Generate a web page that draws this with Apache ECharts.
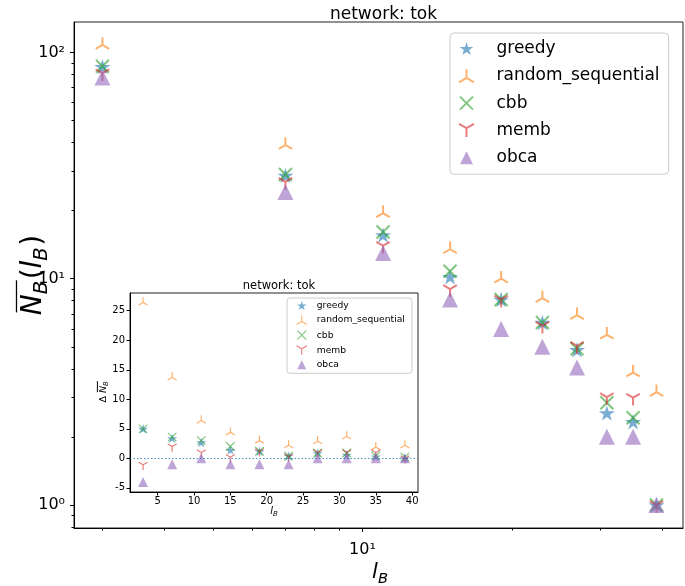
<!DOCTYPE html>
<html><head><meta charset="utf-8">
<script src="https://cdn.jsdelivr.net/npm/echarts@6/dist/echarts.min.js"></script>
<style>html,body{margin:0;padding:0;background:#fff}#c{width:685px;height:586px}</style>
</head><body><div id="c"></div>
<script>
// ---------------- data ----------------
const lB = [3, 7, 11, 15, 19, 23, 27, 31, 35, 39];
const seriesNames = ['greedy', 'random_sequential', 'cbb', 'memb', 'obca'];

// main plot: mean number of boxes N_B(l_B) (log-log)
const mainGreedy = [86.5, 28.6, 15.6, 10.2, 8.1, 6.4, 4.85, 2.55, 2.33, 1.0];
const mainRandom = [108, 39, 19.5, 13.5, 10.0, 8.2, 6.9, 5.65, 3.85, 3.15];
const mainCbb    = [87, 28.9, 16.1, 10.8, 8.1, 6.4, 4.9, 2.83, 2.43, 1.0];
const mainMemb   = [81, 26.8, 14.0, 9.0, 8.1, 6.2, 5.05, 3.0, 2.98, 1.0];
const mainObca   = [77.5, 24.2, 13.0, 8.1, 6.0, 5.0, 4.05, 2.0, 2.0, 1.0];

// inset: difference Delta N_B
const diffGreedy = [5.0, 3.4, 2.7, 1.4, 1.2, 0.4, 0.9, 0.6, 0.3, 0.0];
const diffRandom = [26.4, 13.7, 6.4, 4.4, 3.0, 2.2, 2.9, 3.7, 1.9, 2.2];
const diffCbb    = [5.0, 3.6, 3.0, 2.0, 1.2, 0.4, 0.9, 0.9, 0.4, 0.2];
const diffMemb   = [-1.1, 2.0, 1.0, 0.2, 1.2, 0.3, 1.0, 1.0, 1.0, 0.0];
const diffObca   = [-4.0, -1.0, 0.0, -1.0, -1.0, -1.0, 0.0, 0.0, 0.0, 0.0];

// ticks
const mainXMajor = [10];
const mainXMinor = [3, 4, 5, 6, 7, 8, 9, 20, 30, 40];
const mainYMajor = [1, 10, 100];
const mainYMinor = [0.8, 0.9, 2, 3, 4, 5, 6, 7, 8, 9, 20, 30, 40, 50, 60, 70, 80, 90];
const insetXTicks = [5, 10, 15, 20, 25, 30, 35, 40];
const insetYTicks = [-5, 0, 5, 10, 15, 20, 25];

const mainTitle = 'network: tok';
const insetTitle = 'network: tok';

// ---------------- styles ----------------
const FONT = '"DejaVu Sans", sans-serif';
const COL = ['#1f77b4', '#ff7f0e', '#2ca02c', '#d62728', '#9467bd'];
function starPath() {
  let s = 'path://';
  for (let i = 0; i < 10; i++) {
    const r = i % 2 ? 3.82 : 10;
    const a = -Math.PI / 2 + i * Math.PI / 5;
    s += (i ? 'L' : 'M') + (r * Math.cos(a)).toFixed(3) + ' ' + (r * Math.sin(a)).toFixed(3) + ' ';
  }
  return s + 'Z';
}
const SYM = [
  starPath(),
  'path://M0 0L0 -10M0 0L-8.66 5M0 0L8.66 5',
  'path://M-5 -5L5 5M-5 5L5 -5',
  'path://M0 0L0 10M0 0L-8.66 -5M0 0L8.66 -5',
  'path://M0 -10L10 10L-10 10Z'
];
const FILLED = [true, false, false, false, true];
const TRI_OFF = [0, -1, 0, 1, 0];
const MAIN_SIZE = [16, 13.5, 13, 13.5, 16];
const INSET_SIZE = [10, 9, 8.5, 9, 10];
const ALPHA = 0.6;

const mainData = [mainGreedy, mainRandom, mainCbb, mainMemb, mainObca];
const diffData = [diffGreedy, diffRandom, diffCbb, diffMemb, diffObca];

function mk(k, vals, xi, yi, size, lw) {
  return {
    type: 'scatter', name: seriesNames[k], xAxisIndex: xi, yAxisIndex: yi,
    data: lB.map((x, i) => [x, vals[i]]),
    symbol: SYM[k], symbolSize: size, symbolKeepAspect: true,
    symbolOffset: [0, TRI_OFF[k] * 2.5 * size / 17.32],
    itemStyle: FILLED[k]
      ? { color: COL[k], opacity: ALPHA, borderWidth: 0 }
      : { color: 'rgba(0,0,0,0)', borderColor: COL[k], borderWidth: lw, opacity: ALPHA },
    emphasis: { disabled: true }, silent: true, animation: false
  };
}

const series = [];
for (let k = 0; k < 5; k++) series.push(mk(k, mainData[k], 0, 0, MAIN_SIZE[k], 2));
for (let k = 0; k < 5; k++) series.push(mk(k, diffData[k], 2, 2, INSET_SIZE[k], 1.2));
series[5].markLine = {
  silent: true, symbol: 'none', label: { show: false }, animation: false,
  lineStyle: { color: '#1f77b4', width: 1.2, type: [1.5, 2], opacity: 0.8 },
  data: [{ yAxis: 0 }]
};

const SUP = { '-': '⁻', '0': '⁰', '1': '¹', '2': '²', '3': '³' };
function logLabel(v) {
  const e = Math.round(Math.log10(v));
  return '10' + String(e).split('').map(c => SUP[c]).join('');
}

function legendData(lw) {
  return seriesNames.map((n, k) => ({
    name: n, icon: SYM[k],
    itemStyle: FILLED[k]
      ? { color: COL[k], opacity: ALPHA, borderWidth: 0 }
      : { color: 'rgba(0,0,0,0)', borderColor: COL[k], borderWidth: lw, opacity: ALPHA }
  }));
}

const axisBase = {
  axisLine: { show: true, onZero: false, lineStyle: { color: '#000', width: 1 } },
  splitLine: { show: false }
};

// ---------------- math labels via canvas measure ----------------
const mctx = document.createElement('canvas').getContext('2d');
function tw(t, font) { mctx.font = font; return mctx.measureText(t).width; }
function mathLabel(pieces, fs, cx, cy, rot) {
  const children = [];
  let x = 0;
  const items = pieces.map(p => {
    const size = p.sub ? fs * 0.7 : fs;
    const font = (p.it ? 'italic ' : '') + size + 'px ' + FONT;
    const w = tw(p.t, font);
    const it = { p, size, font, x, w };
    x += w + (p.sp || 0);
    return it;
  });
  const total = x;
  const base = fs * 0.38;
  let olStart = null, olEnd = null;
  items.forEach(it => {
    const bl = base + (it.p.sub ? fs * 0.2 : 0);
    children.push({
      type: 'text', silent: true,
      style: { text: it.p.t, x: it.x - total / 2, y: bl - 0.35 * it.size, font: it.font,
               fill: '#000', align: 'left', verticalAlign: 'middle' }
    });
    if (it.p.ol) {
      if (olStart === null) olStart = it.x - total / 2;
      olEnd = it.x - total / 2 + it.w;
    }
  });
  if (olStart !== null) {
    const oy = base - fs * 0.97;
    children.push({ type: 'line', silent: true,
      shape: { x1: olStart + fs * 0.1, y1: oy, x2: olEnd + fs * 0.02, y2: oy },
      style: { stroke: '#000', lineWidth: Math.max(1, fs * 0.045) } });
  }
  return { type: 'group', x: cx, y: cy, rotation: rot || 0, silent: true, children };
}

const graphics = [
  mathLabel([{ t: 'N', it: true, ol: true }, { t: 'B', it: true, sub: true, ol: true, sp: 1.5 },
             { t: '(' }, { t: 'l', it: true }, { t: 'B', it: true, sub: true, sp: 1.5 }, { t: ')' }],
            28, 33, 275, Math.PI / 2),
  mathLabel([{ t: 'l', it: true }, { t: 'B', it: true, sub: true }], 21, 380, 572, 0),
  mathLabel([{ t: 'Δ', sp: 3 }, { t: 'N', it: true, ol: true }, { t: 'B', it: true, sub: true, ol: true }],
            9.5, 103, 392, Math.PI / 2),
  mathLabel([{ t: 'l', it: true }, { t: 'B', it: true, sub: true }], 10, 274, 511, 0)
];

const option = {
  animation: false,
  backgroundColor: '#fff',
  title: [
    { text: mainTitle, left: 378.5, top: 1, textAlign: 'center',
      textStyle: { fontFamily: FONT, fontSize: 17, fontWeight: 'normal', color: '#000' } },
    { text: insetTitle, left: 274, top: 275, textAlign: 'center',
      textStyle: { fontFamily: FONT, fontSize: 11.5, fontWeight: 'normal', color: '#000' } }
  ],
  grid: [
    { left: 74, top: 22, width: 609, height: 506, show: true, borderColor: '#222', borderWidth: 1, backgroundColor: 'rgba(0,0,0,0)' },
    { left: 130, top: 293, width: 288, height: 199, show: true, borderColor: '#222', borderWidth: 1, backgroundColor: '#fff' }
  ],
  xAxis: [
    Object.assign({}, axisBase, { type: 'log', gridIndex: 0, min: 2.63, max: 44.1, position: 'bottom',
      axisTick: { show: true, length: 4, lineStyle: { color: '#000' }, customValues: mainXMajor },
      axisLabel: { customValues: mainXMajor, formatter: logLabel, fontFamily: FONT, fontSize: 16, color: '#000', margin: 14 } }),
    Object.assign({}, axisBase, { type: 'log', gridIndex: 0, min: 2.63, max: 44.1, position: 'bottom',
      axisLine: { show: false },
      axisTick: { show: true, length: 2.5, lineStyle: { color: '#000' }, customValues: mainXMinor },
      axisLabel: { show: false } }),
    Object.assign({}, axisBase, { type: 'value', gridIndex: 1, min: 1.2, max: 40.8, position: 'bottom',
      axisTick: { show: true, length: 3.5, lineStyle: { color: '#000' }, customValues: insetXTicks },
      axisLabel: { customValues: insetXTicks, fontFamily: FONT, fontSize: 10, color: '#000', margin: 4 } })
  ],
  yAxis: [
    Object.assign({}, axisBase, { type: 'log', gridIndex: 0, min: 0.791, max: 136.4, position: 'left',
      axisTick: { show: true, length: 4, lineStyle: { color: '#000' }, customValues: mainYMajor },
      axisLabel: { customValues: mainYMajor, formatter: logLabel, fontFamily: FONT, fontSize: 16, color: '#000', margin: 9 } }),
    Object.assign({}, axisBase, { type: 'log', gridIndex: 0, min: 0.791, max: 136.4, position: 'left',
      axisLine: { show: false },
      axisTick: { show: true, length: 2.5, lineStyle: { color: '#000' }, customValues: mainYMinor },
      axisLabel: { show: false } }),
    Object.assign({}, axisBase, { type: 'value', gridIndex: 1, min: -5.7, max: 28, position: 'left',
      axisTick: { show: true, length: 3.5, lineStyle: { color: '#000' }, customValues: insetYTicks },
      axisLabel: { customValues: insetYTicks, fontFamily: FONT, fontSize: 10, color: '#000', margin: 5 } })
  ],
  legend: [
    { orient: 'vertical', left: 450, top: 33, padding: [7, 9, 8, 8], itemGap: 10.3, itemWidth: 30, itemHeight: 13,
      selectedMode: false, backgroundColor: 'rgba(255,255,255,0.8)', borderColor: '#cccccc', borderWidth: 1, borderRadius: 4,
      textStyle: { fontFamily: FONT, fontSize: 17, color: '#000', lineHeight: 17, padding: [0, 0, 0, 10] },
      data: legendData(2) },
    { orient: 'vertical', left: 287, top: 298, padding: [3, 7, 4, 9], itemGap: 5, itemWidth: 12, itemHeight: 9,
      selectedMode: false, backgroundColor: 'rgba(255,255,255,0.8)', borderColor: '#cccccc', borderWidth: 1, borderRadius: 3,
      textStyle: { fontFamily: FONT, fontSize: 9.2, color: '#000', lineHeight: 9, padding: [0, 0, 0, 4] },
      data: legendData(1.1) }
  ],
  graphic: graphics,
  series: series
};

const chart = echarts.init(document.getElementById('c'), null, { renderer: 'canvas' });
chart.setOption(option);
</script>
</body></html>
